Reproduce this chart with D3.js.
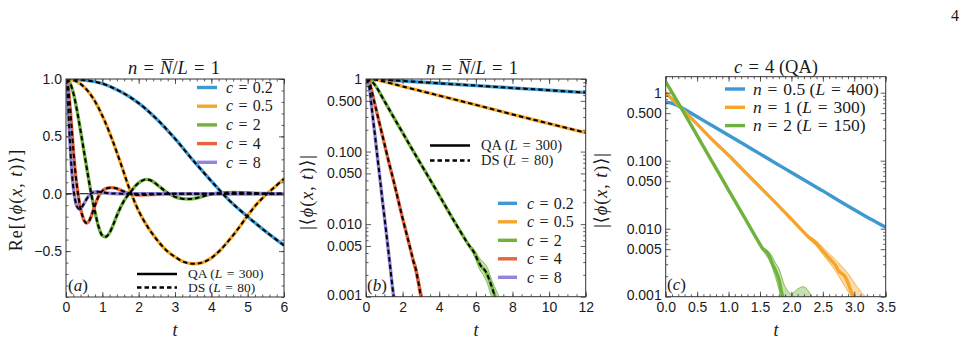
<!DOCTYPE html>
<html>
<head>
<meta charset="utf-8">
<script src="https://cdnjs.cloudflare.com/ajax/libs/d3/7.8.5/d3.min.js"></script>
<style>
  body { margin: 0; background: #fff; }
  svg { display: block; }
  text { white-space: pre; }
</style>
</head>
<body>
<script>
// colours (Mathematica-ish)
const blue = "#3d9ad1", orange = "#f5a52a", green = "#6fb33c", red = "#e8653c", purple = "#9584de";

// ---- panel (a): Re<phi(x,t)>, n = 1 ----
const reC02 = [[0,1],[0.5,0.99],[1,0.96],[1.5,0.89],[2,0.79],[2.5,0.65],[3,0.48],[3.5,0.29],[4,0.11],[4.5,-0.06],[5,-0.2],[5.5,-0.33],[6,-0.45]];
const reC05 = [[0,1],[0.25,0.985],[0.5,0.93],[0.75,0.83],[1,0.68],[1.25,0.49],[1.5,0.27],[1.75,0.04],[2,-0.15],[2.25,-0.29],[2.5,-0.4],[2.75,-0.49],[3,-0.55],[3.25,-0.595],[3.5,-0.61],[3.75,-0.6],[4,-0.56],[4.25,-0.49],[4.5,-0.4],[4.75,-0.3],[5,-0.19],[5.25,-0.09],[5.5,-0.01],[5.75,0.06],[6,0.13]];
const reC2 = [[0,1],[0.1,0.97],[0.2,0.88],[0.3,0.73],[0.4,0.55],[0.5,0.36],[0.6,0.17],[0.7,-0.01],[0.8,-0.16],[0.9,-0.29],[1,-0.365],[1.1,-0.375],[1.2,-0.34],[1.3,-0.27],[1.4,-0.19],[1.5,-0.12],[1.6,-0.06],[1.7,-0.015],[1.8,0.025],[1.9,0.065],[2,0.095],[2.1,0.115],[2.2,0.125],[2.3,0.12],[2.4,0.105],[2.5,0.08],[2.6,0.055],[2.7,0.03],[2.8,0.008],[2.9,-0.012],[3,-0.027],[3.2,-0.043],[3.4,-0.046],[3.6,-0.037],[3.8,-0.02],[4,-0.004],[4.3,0.008],[4.6,0.011],[5,0.008],[5.5,0.002],[6,0]];
const reC4 = [[0,1],[0.05,0.95],[0.1,0.8],[0.15,0.6],[0.2,0.39],[0.25,0.21],[0.3,0.07],[0.35,-0.04],[0.4,-0.13],[0.45,-0.19],[0.5,-0.235],[0.56,-0.255],[0.62,-0.245],[0.7,-0.19],[0.8,-0.1],[0.9,-0.02],[1,0.025],[1.1,0.045],[1.25,0.053],[1.4,0.045],[1.55,0.025],[1.7,0.006],[1.85,-0.006],[2,-0.011],[2.2,-0.01],[2.5,-0.004],[3,0],[4,0],[5,0],[6,0]];
const reC8 = [[0,1],[0.03,0.93],[0.06,0.76],[0.1,0.5],[0.15,0.24],[0.2,0.06],[0.25,-0.05],[0.3,-0.11],[0.37,-0.135],[0.45,-0.11],[0.55,-0.055],[0.65,-0.01],[0.75,0.012],[0.85,0.018],[1,0.013],[1.2,0.004],[1.5,0],[2,0],[3,0],[4,0],[5,0],[6,0]];

// ---- panel (b): |<phi(x,t)>|, n = 1, log scale ----
const absC02 = [[0,1],[0.5,0.99],[1,0.975],[2,0.94],[4,0.872],[6,0.81],[8,0.753],[10,0.7],[12,0.65]];
const absC05 = [[0,1],[0.5,0.98],[1,0.92],[2,0.79],[4,0.59],[6,0.44],[8,0.325],[10,0.243],[12,0.182]];
const absC2 = [[0,1],[0.25,0.96],[0.5,0.82],[1,0.5],[1.5,0.3],[2,0.182],[2.5,0.11],[3,0.067],[3.5,0.041],[4,0.025],[4.5,0.015],[5,0.0092],[5.5,0.0057],[5.7,0.0048],[5.9,0.0041],[6.1,0.0032],[6.3,0.0026],[6.5,0.0023],[6.7,0.0018],[6.9,0.0013],[7.05,0.001],[7.2,0.0008]];
const absC4 = [[0,1],[0.1,0.97],[0.2,0.88],[0.4,0.55],[0.6,0.34],[0.8,0.21],[1,0.13],[1.25,0.071],[1.5,0.04],[1.75,0.022],[2,0.012],[2.25,0.0068],[2.5,0.0038],[2.6,0.003],[2.7,0.0025],[2.8,0.0019],[2.9,0.0014],[3,0.001],[3.1,0.0008]];
const absC8 = [[0,1],[0.1,0.9],[0.2,0.72],[0.3,0.43],[0.4,0.26],[0.5,0.16],[0.6,0.095],[0.7,0.058],[0.8,0.035],[0.9,0.021],[1,0.013],[1.1,0.0079],[1.2,0.0048],[1.3,0.0029],[1.4,0.0017],[1.5,0.00105],[1.6,0.0007]];
// error bands [t, low, high]
const bandC2 = [[5.8,0.0042,0.0048],[6,0.0032,0.0041],[6.2,0.0024,0.0034],[6.4,0.002,0.003],[6.6,0.0016,0.0026],[6.8,0.0011,0.0019],[7,0.0008,0.0014],[7.2,0.0006,0.0011],[7.35,0.0005,0.0009]];
const bandC4 = [[2.5,0.0035,0.0041],[2.6,0.0027,0.0034],[2.7,0.0021,0.0029],[2.8,0.0016,0.0023],[2.9,0.0012,0.0017],[3,0.0008,0.0013],[3.1,0.0006,0.001],[3.15,0.0006,0.0009]];
const bandC8 = [[1.3,0.0026,0.0033],[1.4,0.0015,0.002],[1.5,0.0009,0.0013],[1.58,0.0007,0.001]];

// ---- panel (c): c = 4 (QA), different densities ----
const qaN05 = [[0,0.72],[0.1,0.7],[0.2,0.64],[0.3,0.57],[0.5,0.443],[0.75,0.324],[1,0.237],[1.25,0.173],[1.5,0.126],[1.75,0.092],[2,0.067],[2.25,0.049],[2.5,0.036],[2.75,0.026],[3,0.019],[3.25,0.014],[3.5,0.0105]];
const qaN1 = [[0,1],[0.1,0.81],[0.25,0.59],[0.5,0.345],[0.75,0.2],[1,0.12],[1.25,0.07],[1.5,0.041],[1.75,0.024],[2,0.0138],[2.25,0.0079],[2.4,0.006],[2.5,0.0047],[2.6,0.0037],[2.7,0.0029],[2.75,0.0024],[2.8,0.0022],[2.85,0.002],[2.9,0.0016],[2.95,0.0012],[3,0.00095],[3.05,0.0008]];
const qaN2 = [[0,1.45],[0.1,1.01],[0.25,0.59],[0.5,0.234],[0.75,0.093],[1,0.037],[1.25,0.0148],[1.5,0.0059],[1.55,0.005],[1.6,0.0046],[1.65,0.0039],[1.7,0.003],[1.75,0.0024],[1.8,0.0018],[1.85,0.0011],[1.9,0.0008]];
const bandN1 = [[2.3,0.0068,0.0076],[2.4,0.0055,0.0066],[2.5,0.0042,0.0053],[2.6,0.0032,0.0043],[2.7,0.0024,0.0035],[2.8,0.0017,0.0028],[2.9,0.0012,0.0022],[3,0.00085,0.0016],[3.1,0.0007,0.0012],[3.2,0.0006,0.00095]];
const bandN2 = [[1.55,0.0047,0.0053],[1.65,0.0034,0.0045],[1.75,0.0019,0.0031],[1.8,0.0013,0.0026],[1.85,0.0009,0.0019],[1.9,0.0007,0.0014],[2,0.0007,0.0011],[2.1,0.0008,0.0013],[2.2,0.0008,0.0014],[2.3,0.0007,0.0011],[2.36,0.0006,0.0009]];

// tick labels and legend texts (" = " gets math spacing below)
const logTicks = [1, 0.5, 0.1, 0.05, 0.01, 0.005, 0.001];
const legendC = ["*c* = 0.2", "*c* = 0.5", "*c* = 2", "*c* = 4", "*c* = 8"];
const legendN = ["*n* = 0.5 (*L* = 400)", "*n* = 1 (*L* = 300)", "*n* = 2 (*L* = 150)"];
const legendMethod = ["QA (*L* = 300)", "DS (*L* = 80)"];

const serif = "'Liberation Serif', 'DejaVu Serif', serif";
const sans = "'Liberation Sans', Arial, sans-serif";

const svg = d3.select("body").append("svg").attr("width", 966).attr("height", 343);

// text with *italic* parts, wider spaces round "=" like TeX
function mtext(g, x, y, s, fs, anchor) {
  const t = g.append("text").attr("x", x).attr("y", y)
    .attr("font-family", serif).attr("font-size", fs)
    .attr("text-anchor", anchor || "start").attr("fill", "#1a1a1a");
  s.replace(/ = /g, "\u2004=\u2004").split("*").forEach((p, i) => {
    if (p) t.append("tspan").attr("font-style", i % 2 ? "italic" : "normal").text(p);
  });
  return t;
}

const logMinor = [];
[0.001, 0.01, 0.1].forEach(d => [2,3,4,6,7,8,9].forEach(k => logMinor.push(k * d)));

function axes(g, x, y, xMaj, xMin, yMaj, yMin, xFmt, yFmt) {
  const [x0, x1] = x.range(), [y1, y0] = y.range();
  const ticks = (axis, vals, size, fmt, tr, pad) => {
    const a = g.append("g").attr("transform", tr)
      .call(axis.tickValues(vals).tickSize(size).tickPadding(pad || 4).tickFormat(fmt || ""));
    a.select(".domain").remove();
    a.selectAll("line").attr("stroke", "#333").attr("stroke-width", 0.8);
    a.selectAll("text").attr("font-family", sans).attr("font-size", 14).attr("fill", "#1a1a1a");
  };
  ticks(d3.axisBottom(x), xMin, -2.5, null, `translate(0,${y1})`);
  ticks(d3.axisBottom(x), xMaj, -5, xFmt, `translate(0,${y1})`, 5);
  ticks(d3.axisTop(x), xMin, -2.5, null, `translate(0,${y0})`);
  ticks(d3.axisTop(x), xMaj, -5, null, `translate(0,${y0})`);
  ticks(d3.axisLeft(y), yMin, -2.5, null, `translate(${x0},0)`);
  ticks(d3.axisLeft(y), yMaj, -5, yFmt, `translate(${x0},0)`);
  ticks(d3.axisRight(y), yMin, -2.5, null, `translate(${x1},0)`);
  ticks(d3.axisRight(y), yMaj, -5, null, `translate(${x1},0)`);
  // lowest y label sits a touch higher so it clears the x labels
  g.selectAll(".tick text").filter(function () { return this.textContent === "0.001"; }).attr("dy", "0.2em");
  g.append("rect").attr("x", x0).attr("y", y0).attr("width", x1 - x0).attr("height", y1 - y0)
    .attr("fill", "none").attr("stroke", "#333").attr("stroke-width", 1);
}

function clip(id, x, y) {
  const [x0, x1] = x.range(), [y1, y0] = y.range();
  svg.append("clipPath").attr("id", id).append("rect")
    .attr("x", x0).attr("y", y0).attr("width", x1 - x0).attr("height", y1 - y0);
  return svg.append("g").attr("clip-path", `url(#${id})`);
}

function drawLines(g, x, y, series, dashed) {
  const line = d3.line().x(d => x(d[0])).y(d => y(d[1])).curve(d3.curveCatmullRom.alpha(0.5));
  series.forEach(s => g.append("path").attr("d", line(s.data)).attr("fill", "none")
    .attr("stroke", s.color).attr("stroke-width", 3.4).attr("stroke-linejoin", "round"));
  if (dashed) series.forEach(s => g.append("path").attr("d", line(s.data)).attr("fill", "none")
    .attr("stroke", "#000").attr("stroke-width", 2).attr("stroke-dasharray", "4.5,3"));
}

function drawBands(g, x, y, bands) {
  const area = d3.area().x(d => x(d[0])).y0(d => y(d[1])).y1(d => y(d[2])).curve(d3.curveCatmullRom.alpha(0.5));
  bands.forEach(b => g.append("path").attr("d", area(b.data)).attr("fill", b.color)
    .attr("fill-opacity", 0.4).attr("stroke", b.color).attr("stroke-width", 0.8));
}

function titleN(cx) {
  const t = mtext(svg, cx, 74, "*n* = *N*/*L* = 1", 18.5, "middle");
  const node = t.node();
  const i = 4; // the N
  const a = node.getStartPositionOfChar(i), b = node.getEndPositionOfChar(i);
  svg.append("line").attr("x1", a.x + 1.5).attr("x2", b.x + 1.5).attr("y1", 59.5).attr("y2", 59.5)
    .attr("stroke", "#1a1a1a").attr("stroke-width", 0.9);
}

function yLabel(x, y, s) {
  mtext(svg, 0, 0, s, 18, "middle").attr("letter-spacing", 1)
    .attr("transform", `translate(${x},${y}) rotate(-90)`);
}

function legendRows(g, x, y0, dy, labels, colors, fs, dashes) {
  labels.forEach((l, i) => {
    const y = y0 + i * dy;
    g.append("line").attr("x1", x[0]).attr("x2", x[1]).attr("y1", y).attr("y2", y)
      .attr("stroke", colors[i]).attr("stroke-width", colors[i] === "#000" ? 2.5 : 3.4)
      .attr("stroke-dasharray", dashes ? dashes[i] : null);
    mtext(g, x[2], y + fs * 0.33, l, fs);
  });
}

// ===== panel (a) =====
const xA = d3.scaleLinear().domain([0, 6]).range([66, 284]);
const yA = d3.scaleLinear().domain([-0.9, 1]).range([297, 79]);
const gA = clip("clipA", xA, yA);
gA.append("line").attr("x1", 66).attr("x2", 284).attr("y1", yA(0)).attr("y2", yA(0)).attr("stroke", "#000").attr("stroke-width", 1);
drawLines(gA, xA, yA, [
  {data: reC02, color: blue}, {data: reC05, color: orange}, {data: reC2, color: green},
  {data: reC4, color: red}, {data: reC8, color: purple}], true);
axes(svg, xA, yA, d3.range(0, 6.01, 1), d3.range(0, 6.01, 0.2), [-0.5, 0, 0.5, 1], d3.range(-0.9, 1.001, 0.1),
  d3.format("d"), d3.format(".1f"));
titleN(174);
legendRows(svg, [197, 217, 226], 87.5, 18.7, legendC, [blue, orange, green, red, purple], 16);
legendRows(svg, [137, 177, 188], 274, 13.5, legendMethod, ["#000", "#000"], 13.5, [null, "4.5,3"]);
mtext(svg, 68, 291, "(*a*)", 17);
yLabel(22, 200, "Re[⟨*ϕ*(*x*, *t*)⟩]");
mtext(svg, 175, 336, "*t*", 18, "middle");

// ===== panel (b) =====
const xB = d3.scaleLinear().domain([0, 12]).range([366, 585.7]);
const yB = d3.scaleLog().domain([0.001, 1]).range([296.7, 79]);
const gB = clip("clipB", xB, yB);
drawBands(gB, xB, yB, [{data: bandC2, color: green}, {data: bandC4, color: red}, {data: bandC8, color: purple}]);
drawLines(gB, xB, yB, [
  {data: absC02, color: blue}, {data: absC05, color: orange}, {data: absC2, color: green},
  {data: absC4, color: red}, {data: absC8, color: purple}], true);
axes(svg, xB, yB, d3.range(0, 12.01, 2), d3.range(0, 12.01, 0.5), logTicks, logMinor,
  d3.format("d"), v => v === 1 ? "1" : d3.format(".3f")(v));
titleN(472);
legendRows(svg, [430, 470, 481], 145.5, 15, legendMethod, ["#000", "#000"], 14.5, [null, "4.5,3"]);
legendRows(svg, [498, 517, 527], 203.3, 18.5, legendC, [blue, orange, green, red, purple], 16);
mtext(svg, 367, 291, "(*b*)", 17);
yLabel(313, 192, "|⟨*ϕ*(*x*, *t*)⟩|");
mtext(svg, 476, 336, "*t*", 18, "middle");

// ===== panel (c) =====
const xC = d3.scaleLinear().domain([0, 3.5]).range([665.7, 885.7]);
const yC = d3.scaleLog().domain([0.001, 1.72]).range([296.7, 76.7]);
const gC = clip("clipC", xC, yC);
drawBands(gC, xC, yC, [{data: bandN1, color: orange}, {data: bandN2, color: green}]);
drawLines(gC, xC, yC, [{data: qaN05, color: blue}, {data: qaN1, color: orange}, {data: qaN2, color: green}], false);
axes(svg, xC, yC, d3.range(0, 3.51, 0.5), d3.range(0, 3.51, 0.1), logTicks, logMinor,
  d3.format(".1f"), v => v === 1 ? "1" : d3.format(".3f")(v));
mtext(svg, 776, 73, "*c* = 4 (QA)", 18.5, "middle");
legendRows(svg, [725, 745, 753], 89, 18.3, legendN, [blue, orange, green], 17.5);
mtext(svg, 667, 290, "(*c*)", 17);
yLabel(607, 190, "|⟨*ϕ*(*x*, *t*)⟩|");
mtext(svg, 776, 336, "*t*", 18, "middle");

// page number
mtext(svg, 951, 21, "4", 16);
</script>
</body>
</html>
